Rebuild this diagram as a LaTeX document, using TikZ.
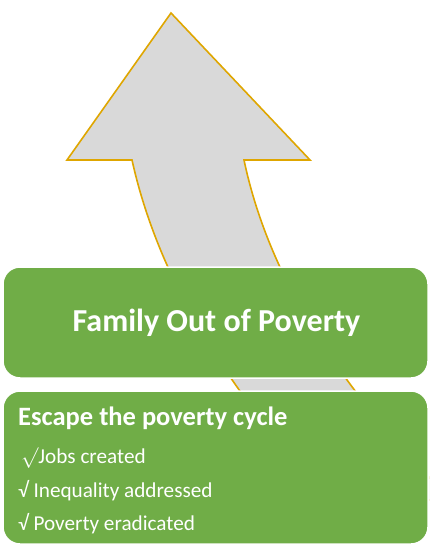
\documentclass[tikz,border=0pt]{standalone}
\usepackage{fontspec}
\setmainfont{Carlito}
\definecolor{boxgreen}{RGB}{112,173,71}
\definecolor{arrowgray}{RGB}{217,217,217}
\definecolor{arrowgold}{RGB}{223,166,0}
\begin{document}
\begin{tikzpicture}[x=1pt,y=-1pt,
  greenbox/.style={draw=white,line width=1.5pt,fill=boxgreen,rounded corners=17pt,inner sep=0pt},
  bigtext/.style={text=white,font=\fontsize{32}{38}\selectfont\bfseries,inner sep=0pt},
  headtext/.style={text=white,font=\fontsize{26.5}{32}\selectfont\bfseries,inner sep=0pt},
  itemtext/.style={text=white,font=\fontsize{21.2}{25}\selectfont,inner sep=0pt}]
\useasboundingbox (0,0) rectangle (429,545);
\begin{scope}
\clip (0,0) rectangle (429,545);
% arrow
\draw[fill=arrowgray,draw=arrowgold,line width=1.6pt,line join=miter]
  (132,160) -- (67,160) -- (171,13) -- (310,160) -- (244,160)
  .. controls (267.8,273.3) and (336.9,386.7) .. (451.2,500)
  -- (330.3,500)
  .. controls (223.2,386.7) and (157.1,273.3) .. (132,160) -- cycle;
\end{scope}
% boxes
\node[greenbox,minimum width=425pt,minimum height=111pt] (top) at (215.5,322.5) {};
\node[greenbox,minimum width=425pt,minimum height=153pt] (bot) at (215.5,467.5) {};
% texts
\node[bigtext,anchor=base] (t1) at (216.5,331.5) {Family Out of Poverty};
\node[headtext,anchor=base west] (h1) at (18,425) {Escape the poverty cycle};
\node[itemtext,anchor=base west] (i1) at (21,463) {$\smash{\surd}$Jobs created};
\node[itemtext,anchor=base west] (i2) at (18,497) {√ Inequality addressed};
\node[itemtext,anchor=base west] (i3) at (18,530) {√ Poverty eradicated};
\end{tikzpicture}
\end{document}
